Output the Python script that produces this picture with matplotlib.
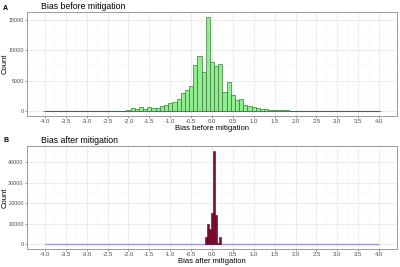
import numpy as np
import matplotlib
matplotlib.use('Agg')
import matplotlib.pyplot as plt
from matplotlib.ticker import MultipleLocator, FormatStrFormatter

plt.rcParams['font.family'] = ['Liberation Sans', 'DejaVu Sans']

# bias range covered by both histograms
bias_range = [-4.0, 4.0]

# before mitigation: bins of width 0.1 centred on -4.0 ... 4.0
before_width = 0.1
before_counts = [
    5, 5, 8, 8, 10, 10, 12, 12, 15, 15,              # -4.0 .. -3.1
    20, 20, 25, 25, 30, 35, 40, 45, 55, 70,          # -3.0 .. -2.1
    120, 440, 275, 710, 385, 660, 550, 550, 820, 990,  # -2.0 .. -1.1
    1260, 1480, 1920, 2900, 3450, 4150, 7500, 9000, 6480, 15500,  # -1.0 .. -0.1
    8130, 7410, 7690, 3180, 4780, 2640, 1810, 2000, 950, 850,    # 0.0 .. 0.9
    650, 480, 370, 280, 220, 170, 140, 120, 100, 80,  # 1.0 .. 1.9
    60, 50, 45, 40, 35, 30, 28, 25, 22, 20,           # 2.0 .. 2.9
    18, 16, 14, 12, 10, 9, 8, 7, 6, 5,                # 3.0 .. 3.9
    5,                                                # 4.0
]
before_centers = np.arange(len(before_counts)) * before_width + bias_range[0]

# after mitigation: bins of width 0.05
after_width = 0.05
after_centers = [-0.15, -0.10, -0.05, 0.00, 0.05, 0.10, 0.15, 0.20]
after_counts = [3500, 10000, 7500, 15000, 45500, 14000, 500, 3500]

x_ticks = np.arange(-4.0, 4.01, 0.5)


def style_axes(ax, ymax, ystep):
    ax.set_facecolor('white')
    ax.set_xlim(-4.43, 4.43)
    ax.set_ylim(-0.05 * ymax, 1.05 * ymax)
    ax.set_xticks(x_ticks)
    ax.xaxis.set_major_formatter(FormatStrFormatter('%.1f'))
    ax.xaxis.set_minor_locator(MultipleLocator(0.25))
    ax.yaxis.set_major_locator(MultipleLocator(ystep))
    ax.yaxis.set_minor_locator(MultipleLocator(ystep / 2))
    ax.grid(which='major', color='#e6e6e6', linewidth=0.5)
    ax.grid(which='minor', color='#f3f3f3', linewidth=0.3)
    ax.set_axisbelow(True)
    for s in ax.spines.values():
        s.set_color('#8c8c8c')
        s.set_linewidth(0.6)
    ax.tick_params(which='major', length=1.5, width=0.4, color='#555555',
                   labelsize=4.3, labelcolor='#4d4d4d', pad=1.2)
    ax.tick_params(axis='y', which='major', labelsize=3.9, pad=0.8)
    ax.tick_params(which='minor', length=0)
    ax.yaxis.set_label_coords(-0.05, 0.5)


fig = plt.figure(figsize=(4, 2.67), dpi=100)

ax1 = fig.add_axes([0.0675, 0.5667, 0.925, 0.3876])
ax1.hlines(0, bias_range[0], bias_range[1], color='#2e7d32', linewidth=0.8, zorder=2)
ax1.bar(before_centers, before_counts, width=before_width, color='#90ee90',
        edgecolor='#2f6f2f', linewidth=0.45, zorder=3)
style_axes(ax1, 15500, 5000)
ax1.set_xlabel('Bias before mitigation', fontsize=5.5, labelpad=0.5)
ax1.set_ylabel('Count', fontsize=5.5)
ax1.set_title('Bias before mitigation', fontsize=6.3, loc='left', x=0.037, pad=2.5)

ax2 = fig.add_axes([0.0675, 0.0685, 0.925, 0.3843])
ax2.hlines(0, bias_range[0], bias_range[1], color='#9b9bd2', linewidth=1.0, zorder=2)
ax2.bar(after_centers, after_counts, width=after_width, color='#7b0d2e',
        edgecolor='#4a0a1e', linewidth=0.4, zorder=3)
style_axes(ax2, 45500, 10000)
ax2.set_xlabel('Bias after mitigation', fontsize=5.5, labelpad=0.5)
ax2.set_ylabel('Count', fontsize=5.5)
ax2.set_title('Bias after mitigation', fontsize=6.3, loc='left', x=0.037, pad=2.5)

fig.text(0.008, 0.968, 'A', fontsize=5, fontweight='bold', va='center')
fig.text(0.008, 0.475, 'B', fontsize=5, fontweight='bold', va='center')

fig.savefig('out.png', dpi=100)
